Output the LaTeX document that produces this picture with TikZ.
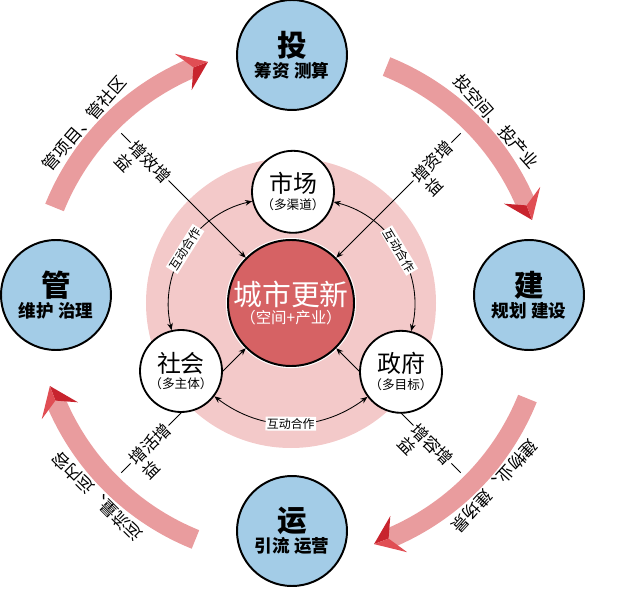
\documentclass[tikz,border=0pt]{standalone}
\usepackage{fontspec}
\newfontfamily\cjk{Noto Sans CJK SC}
\usetikzlibrary{arrows.meta,positioning,calc}
\definecolor{ringpink}{RGB}{243,201,201}
\definecolor{corered}{RGB}{214,98,100}
\definecolor{stageblue}{RGB}{163,204,231}
\definecolor{flowpink}{RGB}{233,156,158}
\definecolor{headred}{RGB}{224,78,84}
\definecolor{headdark}{RGB}{200,36,46}

\begin{document}
\begin{tikzpicture}[
  font=\cjk,
  >={Stealth[length=5pt,width=4pt]},
  core/.style={circle, draw, line width=1.4pt, fill=corered, text=white,
    minimum size=3.15cm, inner sep=0pt, align=center,
    preaction={draw=white, line width=3pt}},
  party/.style={circle, draw, line width=1.3pt, fill=white,
    minimum size=2.05cm, inner sep=0pt, align=center},
  stage/.style={circle, draw, line width=1.4pt, fill=stageblue,
    minimum size=2.75cm, inner sep=0pt, align=center, font=\cjk\bfseries},
  coop/.style={<->, semithick},
  cooplab/.style={font=\cjk\fontsize{8.5}{10}\selectfont, fill=white,
    inner sep=1pt, sloped},
  gain/.style={->, semithick},
  gainlab/.style={font=\cjk\fontsize{12}{14}\selectfont, fill=white, inner sep=1pt},
  flow/.style={fill=flowpink},
  flowlab/.style={font=\cjk\fontsize{12}{14}\selectfont},
]
  \useasboundingbox (-7.275,-7.15) rectangle (8.725,7.575);
  \fill[ringpink] (0,0) circle (3.625);

  % four cycle arrows
  \foreach \k in {0,1,2,3} {
    \begin{scope}[rotate=\k*90]
      \fill[flow] (68:6.125) arc[start angle=68, end angle=22.5, radius=6.125]
        -- (22.5:6.625) arc[start angle=22.5, end angle=68, radius=6.625] -- cycle;
      \fill[headdark] (19:6.375) -- (25:5.875) -- (22.5:6.375) -- cycle;
      \fill[headred] (19:6.375) -- (25:6.875) -- (22.5:6.375) -- cycle;
    \end{scope}
  }
  \foreach \a/\txt [count=\i] in {41.5/投空间、投产业, 139/管项目、管社区,
      225/运流量、运内容, 318/建物业、建场景}
    \node[flowlab, rotate=\a-90] (flow\i) at (\a:6.85) {\txt};

  \node[core] (core) at (0,0) {{\fontsize{20.5}{24}\selectfont 城市更新}\\[1pt]
    {\fontsize{11}{13}\selectfont （空间+产业）}};

  \foreach \a/\r/\txt [count=\i] in {135/-45/增效增, 45/45/增资增,
      225/45/增活增, 315/-45/增容增} {
    \coordinate (gend\i) at (\a:6.0);
    \draw[gain] (gend\i) -- (core);
    \node[gainlab, rotate=\r] (gain\i) at (\a:5.0) {\txt};
    \node[gainlab, fill=none, rotate=\r, anchor=north west] (gainb\i)
      at (gain\i.south west) {益};
  }

  \node[party] (mkt) at (0.05,2.78) {{\fontsize{17}{20}\selectfont 市场}\\
    {\fontsize{9}{11}\selectfont （多渠道）}};
  \node[party] (soc) at (-2.75,-1.7) {{\fontsize{17}{20}\selectfont 社会}\\
    {\fontsize{9}{11}\selectfont （多主体）}};
  \node[party] (gov) at (2.75,-1.72) {{\fontsize{17}{20}\selectfont 政府}\\
    {\fontsize{9}{11}\selectfont （多目标）}};

  \draw[coop] (mkt) to[bend right=45] node[cooplab] (coop1) {互动合作} (soc);
  \draw[coop] (mkt) to[bend left=45] node[cooplab] (coop2) {互动合作} (gov);
  \draw[coop] (soc) to[bend right=37] node[cooplab] (coop3) {互动合作} (gov);

  \node[stage] (tou) at (0.025,6.2) {{\fontsize{21}{24}\selectfont 投}\\[1pt]
    {\fontsize{12.5}{15}\selectfont 筹资 测算}};
  \node[stage] (guan) at (-5.875,0.2) {{\fontsize{21}{24}\selectfont 管}\\[1pt]
    {\fontsize{12.5}{15}\selectfont 维护 治理}};
  \node[stage] (jian) at (5.95,0.2) {{\fontsize{21}{24}\selectfont 建}\\[1pt]
    {\fontsize{12.5}{15}\selectfont 规划 建设}};
  \node[stage] (yun) at (0.025,-5.7) {{\fontsize{21}{24}\selectfont 运}\\[1pt]
    {\fontsize{12.5}{15}\selectfont 引流 运营}};
\end{tikzpicture}
\end{document}
